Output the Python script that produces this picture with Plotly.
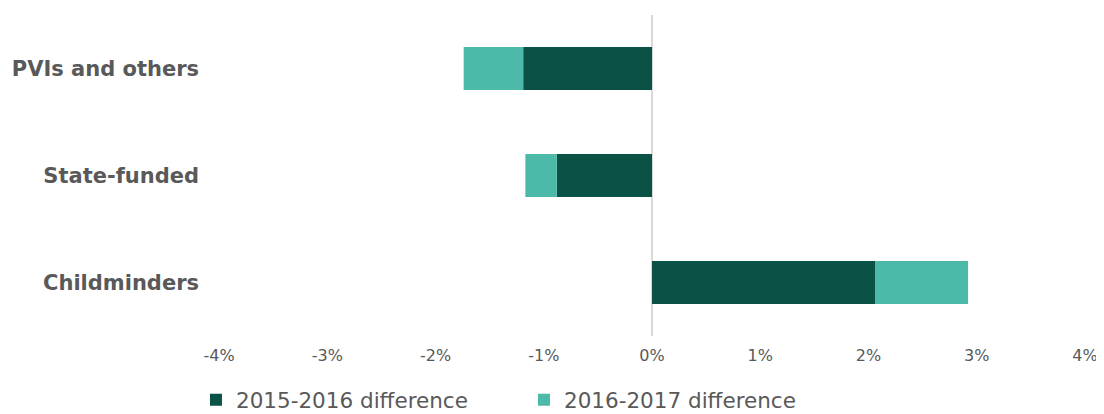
import plotly.graph_objects as go

categories = ["PVIs and others", "State-funded", "Childminders"]
diff_2015_2016 = [-1.19, -0.88, 2.06]
diff_2016_2017 = [-0.55, -0.29, 0.86]
tick_vals = [-4, -3, -2, -1, 0, 1, 2, 3, 4]
tick_text = ["-4%", "-3%", "-2%", "-1%", "0%", "1%", "2%", "3%", "4%"]

fig = go.Figure()
fig.add_trace(go.Bar(y=categories, x=diff_2015_2016, orientation="h",
                     name="2015-2016 difference", marker=dict(color="#0B5246", line=dict(width=0))))
fig.add_trace(go.Bar(y=categories, x=diff_2016_2017, orientation="h",
                     name="2016-2017 difference", marker=dict(color="#4DBAA9", line=dict(width=0))))

fig.update_layout(
    barmode="relative",
    bargap=0.6,
    width=1104, height=414,
    margin=dict(l=211, r=27, t=7, b=86, autoexpand=False),
    plot_bgcolor="white", paper_bgcolor="white",
    font=dict(family="DejaVu Sans", color="#595959"),
    xaxis=dict(range=[-4, 4], tickvals=tick_vals, ticktext=tick_text, showgrid=False,
               zeroline=True, zerolinecolor="#D9D9D9", zerolinewidth=2,
               tickfont=dict(size=16, color="#595959"), showline=False, fixedrange=True,
               automargin=False, ticklabelstandoff=8),
    yaxis=dict(autorange="reversed", showgrid=False, zeroline=False, automargin=False,
               tickfont=dict(family="DejaVu Sans", size=21, color="#595959", weight="bold"),
               ticklabelstandoff=19),
    legend=dict(orientation="h", x=-0.0266, xanchor="left", y=-0.199, yanchor="middle",
                font=dict(size=21.5, color="#595959"), traceorder="normal",
                itemwidth=30, entrywidth=283, entrywidthmode="pixels"),
    showlegend=True,
)

fig.write_html("out.html")
